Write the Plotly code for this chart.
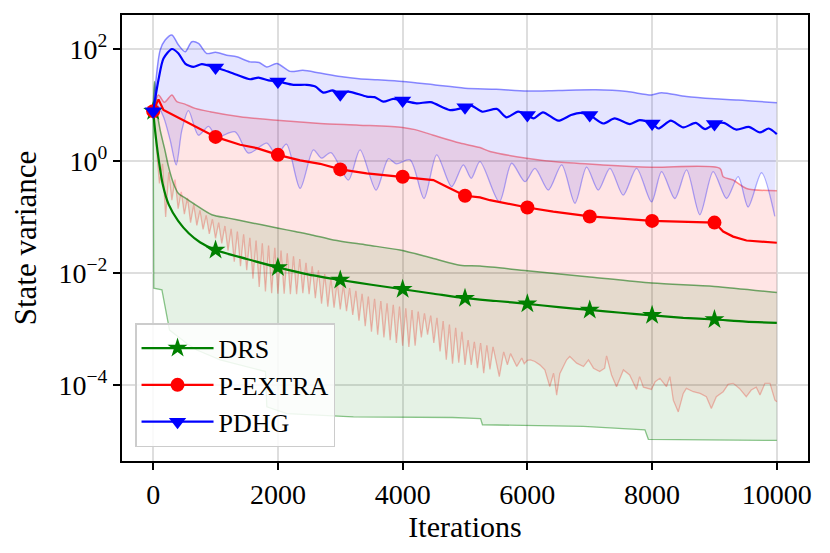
import plotly.graph_objects as go

# ---------------- data (values are log10 of the state variance) ----------------
# DRS
DRS_MED_X = [0, 30, 85, 150, 250, 400, 570, 750, 1000, 1500, 2000, 2500, 3000, 3500, 4000,
             4500, 5000, 5500, 6000, 6500, 7000, 7500, 8000, 8500, 9000, 9500, 10000]
DRS_MED_L = [0.89, 0.55, 0.05, -0.40, -0.78, -1.07, -1.29, -1.45, -1.59, -1.75, -1.90, -2.03,
             -2.125, -2.21, -2.29, -2.37, -2.45, -2.50, -2.55, -2.61, -2.66, -2.71, -2.755,
             -2.80, -2.83, -2.87, -2.89]
DRS_UP_X = [0, 20, 59, 112, 187, 246, 326, 406, 513, 673, 940, 1207, 1474, 1741, 2008, 2276,
            2543, 2890, 3424, 3958, 4493, 4920, 5240, 6000, 7000, 8000, 9000, 10000]
DRS_UP_L = [0.89, 1.42, 0.91, 0.55, 0.20, -0.10, -0.40, -0.58, -0.66, -0.78, -0.96, -1.02,
            -1.08, -1.14, -1.20, -1.26, -1.32, -1.41, -1.50, -1.59, -1.74, -1.86, -1.875,
            -1.96, -2.07, -2.18, -2.24, -2.35]
DRS_LO_X = [0, 10, 140, 262, 540, 700, 1074, 1500, 1800, 1822, 2142, 3210, 4800, 5250, 5280,
            6900, 7885, 7940, 10000]
DRS_LO_L = [0.89, -2.27, -2.30, -3.02, -3.26, -3.375, -3.55, -3.67, -3.76, -4.39, -4.51, -4.57,
            -4.58, -4.60, -4.71, -4.74, -4.80, -4.97, -4.99]

# P-EXTRA
PEX_MED_X = [0, 85, 165, 326, 593, 1000, 1394, 1661, 2000, 2356, 2676, 3000, 3424, 4000, 4493,
             4707, 5000, 5240, 5400, 6000, 6416, 7000, 8000, 9000, 9140, 9300, 9514, 10000]
PEX_MED_L = [0.89, 1.10, 0.91, 0.82, 0.67, 0.43, 0.29, 0.23, 0.11, 0.01, -0.05, -0.15, -0.22,
             -0.28, -0.34, -0.46, -0.62, -0.65, -0.70, -0.83, -0.905, -0.99, -1.07, -1.10,
             -1.26, -1.35, -1.42, -1.46]
PEX_UP_X = [0, 85, 180, 300, 380, 500, 673, 913, 1394, 1928, 2676, 3300, 4000, 4200, 4493,
            4920, 5240, 5400, 5988, 6500, 7216, 7991, 9087, 9140, 9300, 9514, 10000]
PEX_UP_L = [0.89, 1.18, 1.05, 1.18, 1.06, 1.02, 0.94, 0.88, 0.79, 0.73, 0.67, 0.64, 0.60,
            0.56, 0.46, 0.32, 0.24, 0.17, 0.05, -0.02, -0.07, -0.11, -0.13, -0.28, -0.34,
            -0.49, -0.53]
PEX_LO_X = [0, 50, 100, 150, 200, 250, 300, 350, 400, 450, 500, 550, 600, 650, 700, 750, 800,
            850, 900, 950, 1000, 1050, 1100, 1150, 1200, 1250, 1300, 1350, 1400, 1450, 1500,
            1550, 1600, 1650, 1700, 1750, 1800, 1850, 1900, 1950, 2000, 2050, 2100, 2150, 2200,
            2250, 2300, 2350, 2400, 2450, 2500, 2550, 2600, 2650, 2700, 2750, 2800, 2850, 2900,
            2950, 3000, 3050, 3100, 3150, 3200, 3250, 3300, 3350, 3400, 3450, 3500, 3550, 3600,
            3650, 3700, 3750, 3800, 3850, 3900, 3950, 4000, 4050, 4100, 4150, 4200, 4250, 4300,
            4350, 4400, 4450, 4500, 4550, 4600, 4650, 4700, 4750, 4800, 4850, 4900, 4950, 5000,
            5050, 5100, 5150, 5200, 5250, 5300, 5350, 5400, 5450, 5550, 5620, 5680, 5730, 5830,
            5910, 5950, 6000, 6050, 6120, 6200, 6280, 6360, 6420, 6470, 6520, 6630, 6680, 6790,
            6900, 6980, 7060, 7160, 7240, 7270, 7350, 7430, 7540, 7640, 7750, 7800, 7860, 7990,
            8050, 8125, 8230, 8285, 8340, 8420, 8500, 8550, 8660, 8770, 8870, 8950, 9030, 9140,
            9220, 9300, 9400, 9510, 9590, 9670, 9730, 9810, 9890, 9970, 10000]
PEX_LO_L = [0.89, 0.30, -0.40, -0.05, -1.00, -0.20, -0.70, -0.33, -0.85, -0.55, -0.95, -0.66,
            -1.10, -0.78, -1.15, -0.88, -1.22, -0.97, -1.30, -1.04, -1.38, -1.10, -1.47, -1.16,
            -1.60, -1.21, -1.80, -1.26, -1.88, -1.31, -1.95, -1.37, -2.10, -1.42, -2.25, -1.47,
            -2.33, -1.51, -2.36, -1.55, -2.37, -1.60, -2.37, -1.65, -2.38, -1.70, -2.38, -1.75,
            -2.36, -1.82, -2.38, -1.88, -2.45, -1.95, -2.55, -2.02, -2.60, -2.10, -2.62, -2.17,
            -2.65, -2.22, -2.68, -2.27, -2.75, -2.32, -2.85, -2.37, -2.95, -2.42, -3.05, -2.46,
            -3.10, -2.50, -3.15, -2.54, -3.20, -2.57, -3.25, -2.60, -3.30, -2.63, -3.32, -2.66,
            -3.30, -2.69, -3.15, -2.72, -3.10, -2.76, -3.25, -2.80, -3.40, -2.86, -3.55, -2.92,
            -3.62, -2.98, -3.60, -3.05, -3.64, -3.20, -3.64, -3.23, -3.70, -3.25, -3.79, -3.29,
            -3.72, -3.32, -3.85, -3.41, -3.64, -3.44, -3.67, -3.52, -3.62, -3.56, -3.55, -3.58,
            -3.64, -3.73, -4.03, -3.79, -4.18, -3.80, -3.55, -3.49, -3.61, -3.67, -3.55, -3.70,
            -3.76, -3.70, -3.48, -3.82, -4.03, -3.73, -3.82, -4.08, -3.85, -4.04, -4.08, -3.94,
            -3.88, -4.03, -3.85, -4.27, -4.48, -4.15, -4.06, -4.12, -4.15, -4.21, -4.42, -4.21,
            -4.12, -3.99, -3.97, -4.06, -4.21, -4.09, -4.04, -4.18, -3.97, -3.97, -4.27, -4.30]

# PDHG
PDHG_MED_X = [0, 85, 165, 300, 406, 513, 646, 780, 1000, 1127, 1340, 1554, 1688, 1850, 2000,
              2249, 2463, 2600, 2730, 2880, 3000, 3130, 3424, 3550, 3691, 3850, 4000, 4225,
              4450, 4760, 5000, 5100, 5280, 5508, 5668, 5850, 6000, 6100, 6250, 6496, 6700,
              6850, 7000, 7217, 7400, 7644, 7800, 8000, 8100, 8300, 8500, 8700, 8850, 9000,
              9150, 9350, 9550, 9728, 9870, 10000]
PDHG_MED_L = [0.89, 1.45, 1.83, 2.00, 1.92, 1.74, 1.68, 1.73, 1.67, 1.625, 1.54, 1.46, 1.49,
              1.44, 1.42, 1.36, 1.36, 1.33, 1.22, 1.26, 1.19, 1.24, 1.15, 1.14, 1.06, 1.11,
              1.08, 1.03, 1.05, 0.91, 0.96, 0.99, 0.88, 0.93, 0.78, 0.88, 0.82, 0.76, 0.87,
              0.72, 0.82, 0.86, 0.82, 0.67, 0.76, 0.66, 0.73, 0.67, 0.58, 0.72, 0.60, 0.68,
              0.57, 0.66, 0.68, 0.56, 0.61, 0.51, 0.58, 0.48]
PDHG_UP_X = [0, 112, 192, 300, 406, 513, 620, 726, 860, 1000, 1180, 1340, 1554, 1700, 1821,
             1982, 2196, 2400, 2676, 3000, 3300, 3600, 4000, 4500, 5000, 5500, 6000, 6500,
             7100, 7600, 7990, 8150, 8550, 9000, 9380, 10000]
PDHG_UP_L = [0.89, 1.98, 2.16, 2.25, 2.07, 1.95, 2.13, 2.10, 1.92, 1.94, 1.89, 1.86, 1.77,
             1.76, 1.68, 1.74, 1.60, 1.62, 1.57, 1.51, 1.47, 1.45, 1.42, 1.36, 1.30, 1.28,
             1.25, 1.26, 1.27, 1.24, 1.18, 1.22, 1.15, 1.11, 1.09, 1.04]
PDHG_LO_X = [0, 59, 165, 272, 369, 460, 566, 726, 887, 1020, 1314, 1528, 1822, 1976, 2137,
             2356, 2569, 2700, 2850, 3130, 3317, 3574, 3771, 3900, 4119, 4343, 4546, 4786,
             4973, 5100, 5240, 5550, 5748, 5962, 6122, 6336, 6550, 6763, 6950, 7137, 7324,
             7537, 7751, 7991, 8152, 8365, 8553, 8766, 8979, 9194, 9380, 9540, 9755, 9968]
PDHG_LO_L = [0.89, 1.00, 0.79, 0.375, -0.07, 0.55, 0.90, 0.46, 0.62, 0.43, 0.52, 0.14, 0.32,
             0.10, 0.30, -0.49, 0.20, 0.05, 0.15, -0.34, 0.20, -0.52, 0.04, -0.05, 0.02, -0.67,
             0.11, -0.46, -0.07, -0.31, -0.01, -0.73, -0.04, -0.37, -0.13, -0.52, -0.07,
             -0.755, -0.11, -0.52, -0.13, -0.61, -0.13, -0.73, -0.19, -0.67, -0.16, -0.96,
             -0.19, -0.67, -0.28, -0.82, -0.21, -0.99]

NAMES = ["DRS", "P-EXTRA", "PDHG"]
X_TICKS = [0, 2000, 4000, 6000, 8000, 10000]
Y_TICKS = [1e-4, 1e-2, 1, 1e2]
Y_TICKTEXT = ["10<sup>\u22124</sup>", "10<sup>\u22122</sup>", "10<sup>0</sup>", "10<sup>2</sup>"]


def pw(vals):
    return [10 ** v for v in vals]


FONT = "Liberation Serif"
fig = go.Figure()

# bands: (x_lo, y_lo, x_up, y_up, lower line colour, upper line colour, fill colour, shapes)
bands = [
    (PEX_LO_X, PEX_LO_L, PEX_UP_X, PEX_UP_L, "rgba(255,0,0,0.26)", "rgba(255,0,0,0.42)",
     "rgba(255,0,0,0.10)", "linear", "spline"),
    (DRS_LO_X, DRS_LO_L, DRS_UP_X, DRS_UP_L, "rgba(0,128,0,0.45)", "rgba(0,110,0,0.55)",
     "rgba(0,128,0,0.10)", "linear", "spline"),
    (PDHG_LO_X, PDHG_LO_L, PDHG_UP_X, PDHG_UP_L, "rgba(0,0,255,0.30)", "rgba(0,0,255,0.45)",
     "rgba(0,0,255,0.10)", "spline", "spline"),
]
for xl, yl, xu, yu, clo, cup, cfill, shlo, shup in bands:
    fig.add_trace(go.Scatter(x=xl, y=pw(yl), mode="lines",
                             line=dict(color=clo, width=1.3, shape=shlo, smoothing=0.8),
                             showlegend=False, hoverinfo="skip"))
    fig.add_trace(go.Scatter(x=xu, y=pw(yu), mode="lines", fill="tonexty", fillcolor=cfill,
                             line=dict(color=cup, width=1.5, shape=shup, smoothing=0.8),
                             showlegend=False, hoverinfo="skip"))

meds = [
    (DRS_MED_X, DRS_MED_L, "#008000", "star", 15, "spline"),
    (PEX_MED_X, PEX_MED_L, "#ff0000", "circle", 14, "linear"),
    (PDHG_MED_X, PDHG_MED_L, "#0000ff", "triangle-down", 15, "spline"),
]
for (mx, ml, col, sym, ms, sh), name in zip(meds, NAMES):
    fig.add_trace(go.Scatter(x=mx, y=pw(ml), mode="lines",
                             line=dict(color=col, width=2.2, shape=sh, smoothing=0.7),
                             showlegend=False, hoverinfo="skip"))
    kx = [x for x in mx if x % 1000 == 0 and x < 10000]
    ky = [10 ** v for x, v in zip(mx, ml) if x % 1000 == 0 and x < 10000]
    fig.add_trace(go.Scatter(x=kx, y=ky, mode="markers",
                             marker=dict(color=col, symbol=sym, size=ms, line=dict(width=0)),
                             showlegend=False, hoverinfo="skip"))

for (mx, ml, col, sym, ms, sh), name in zip(meds, NAMES):
    fig.add_trace(go.Scatter(x=[None], y=[None], mode="lines+markers", name=name,
                             line=dict(color=col, width=2.2),
                             marker=dict(color=col, symbol=sym, size=ms, line=dict(width=0))))

axis_common = dict(showline=True, linecolor="black", linewidth=2, mirror=True,
                   ticks="outside", ticklen=7, tickwidth=1.5, tickcolor="black",
                   showgrid=True, gridcolor="#dedede", gridwidth=1.5, zeroline=False,
                   automargin=False,
                   tickfont=dict(family=FONT, size=28, color="black"))

fig.update_layout(
    width=830, height=553,
    # the page adds an 8 px body margin, so the plot area is offset accordingly
    margin=dict(l=114, r=30, t=7, b=100),
    paper_bgcolor="white", plot_bgcolor="white",
    font=dict(family=FONT, size=28, color="black"),
    xaxis=dict(range=[-500, 10500], tickvals=X_TICKS, ticktext=[str(t) for t in X_TICKS],
               title=dict(text="Iterations", font=dict(family=FONT, size=30), standoff=0),
               **axis_common),
    yaxis=dict(type="log", range=[-5.357, 2.607], tickvals=Y_TICKS, ticktext=Y_TICKTEXT,
               title=dict(text="State variance", font=dict(family=FONT, size=31), standoff=14),
               **axis_common),
    legend=dict(x=0.019, y=0.031, xanchor="left", yanchor="bottom", traceorder="normal",
                bgcolor="rgba(255,255,255,0.85)", bordercolor="#cccccc", borderwidth=1.5,
                font=dict(family=FONT, size=26, color="black"), itemwidth=72,
                tracegroupgap=0),
    showlegend=True,
)

fig.write_html("out.html")
